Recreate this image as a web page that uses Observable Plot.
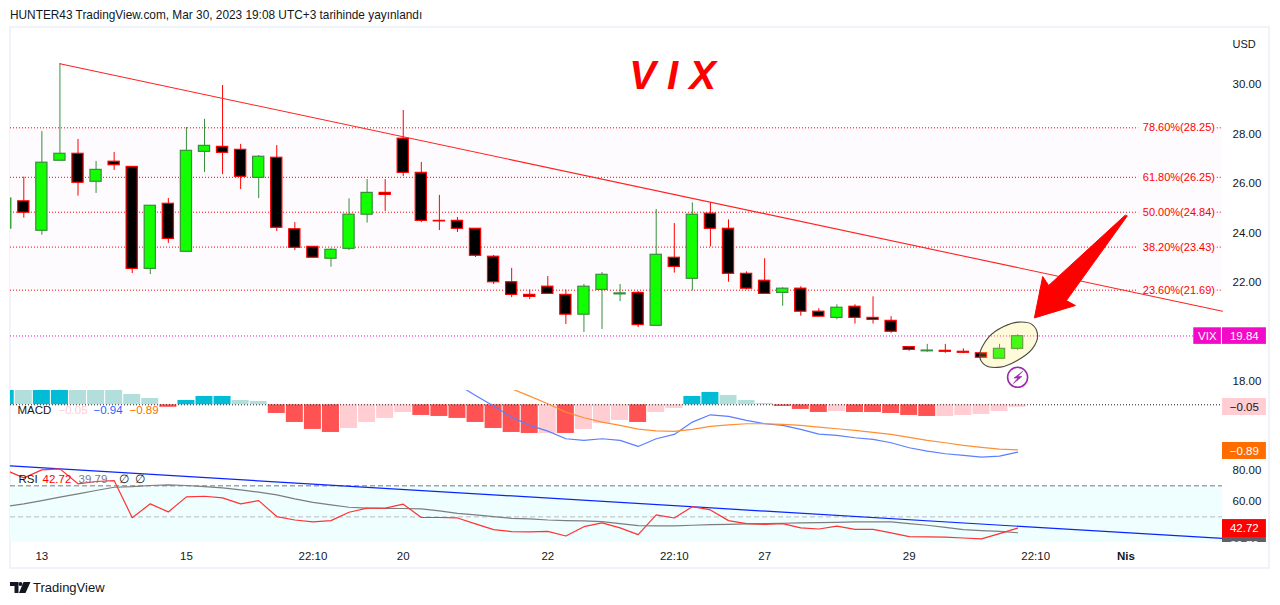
<!DOCTYPE html>
<html lang="tr">
<head>
<meta charset="utf-8">
<script src="https://cdn.jsdelivr.net/npm/d3@7"></script>
<script src="https://cdn.jsdelivr.net/npm/@observablehq/plot@0.6"></script>
<style>
html,body{margin:0;padding:0;background:#fff;overflow:hidden;width:1280px;height:605px}
#stage{position:relative;width:1280px;height:605px;font-family:"Liberation Sans",Arial,sans-serif}
#stage svg.layer,#stage>figure{position:absolute;left:0;top:0;margin:0}
#border{position:absolute;left:9px;top:26px;width:1261px;height:543px;box-sizing:border-box;border:2px solid #f0f3fa}
#header{position:absolute;left:10px;top:8px;font-size:11.85px;color:#131722;white-space:nowrap}
#footer{position:absolute;left:33px;top:580px;font-size:13px;color:#131722;white-space:nowrap}
#logo{position:absolute;left:10px;top:582px}
</style>
</head>
<body>
<div id="stage">
  <div id="border"></div>
  <div id="header">HUNTER43 TradingView.com, Mar 30, 2023 19:08 UTC+3 tarihinde yayınlandı</div>
  <svg id="logo" width="21" height="12" viewBox="0 0 21 12"><path fill="#131722" d="M0 0H8.5V11H4.5V4H0ZM9 11L13.5 0H20.5L15.5 11Z"/><circle cx="10.5" cy="2" r="2" fill="#131722"/></svg>
  <div id="footer">TradingView</div>
</div>
<script>
// ---- candles (first entry is the bar cut by the pane's left edge)
const open = [24.18,25.28,24.09,26.92,27.20,26.07,26.88,26.67,22.55,25.18,23.24,27.28,27.48,27.36,26.23,27.04,24.15,23.44,22.96,23.36,24.74,25.62,27.81,26.43,24.49,24.49,24.17,23.04,22.01,21.50,21.83,21.50,20.70,21.70,21.52,21.58,20.25,23.00,22.15,24.78,24.17,22.35,22.07,21.58,21.75,20.82,20.57,21.02,20.57,20.45,19.39,19.22,19.24,19.20,19.14,18.92,19.32];
const high = [25.39,26.26,28.10,30.84,27.78,26.89,27.25,26.67,25.10,25.39,28.26,28.59,29.96,27.58,27.13,27.53,24.42,23.44,23.36,25.38,26.16,26.16,28.95,26.85,25.52,24.63,24.17,23.09,22.57,21.70,22.24,21.70,21.92,22.40,21.92,21.64,24.95,24.38,25.22,25.22,24.53,22.43,22.96,21.79,21.83,20.94,21.10,21.10,21.42,20.62,19.39,19.50,19.50,19.32,19.14,19.50,19.89];
const low = [24.18,24.60,23.91,26.92,25.49,25.60,26.53,22.36,22.32,23.58,23.24,26.44,26.36,25.76,25.39,24.06,23.29,23.00,22.62,23.29,24.40,24.87,26.28,24.42,24.10,24.02,23.01,21.92,21.39,21.31,21.54,20.30,19.98,20.10,21.23,20.18,20.25,22.38,21.66,23.44,22.01,21.70,21.54,21.04,20.64,20.62,20.49,20.32,20.32,19.95,19.22,19.18,19.14,19.12,18.96,18.92,19.26];
const close = [25.39,24.82,26.84,27.20,26.03,26.55,26.74,22.55,25.10,23.76,27.32,27.52,27.24,26.27,27.08,24.21,23.40,23.00,23.32,24.74,25.62,25.54,26.43,24.49,24.47,24.17,23.08,22.01,21.50,21.42,21.54,20.70,21.83,22.31,21.56,20.28,23.12,22.63,24.74,24.17,22.35,21.75,21.54,21.75,20.82,20.62,20.98,20.57,20.49,20.01,19.28,19.25,19.20,19.16,18.96,19.32,19.83];
const barIndex = close.map((_, k) => k - 1);
const candles = barIndex.map((i, k) => ({i, o: open[k], h: high[k], l: low[k], c: close[k], up: close[k] >= open[k]}));

// ---- retracement levels and price marks
const fibLevels = [28.25, 26.25, 24.84, 23.43, 21.69];
const fibLabels = ["78.60%(28.25)", "61.80%(26.25)", "50.00%(24.84)", "38.20%(23.43)", "23.60%(21.69)"];
const priceTicks = [18, 20, 22, 24, 26, 28, 30];
const lastPrice = 19.84;
const trendI = [2, 66.34], trendP = [30.84, 20.84];
const ellipseI = [52.90,53.40,54.23,55.06,55.81,56.11,55.81,54.98,54.05,53.22];
const ellipseP = [19.05,19.79,20.22,20.40,20.30,19.86,19.32,18.85,18.58,18.65];
const arrowI = [61.06,57.70,58.20,55.93,56.39,56.72,60.94];
const arrowP = [24.68,21.27,21.07,20.57,22.24,21.88,24.71];
const boltI = [55.27,54.80,55.02,54.77,55.24,55.02];
const boltP = [18.40,18.14,18.14,17.92,18.20,18.20];

// ---- time axis
const timeTicks = [1, 9, 16, 21, 29, 36, 41, 49, 56];
const timeLabels = ["13", "15", "22:10", "20", "22", "22:10", "27", "29", "22:10"];
const monthTick = 61, monthLabel = "Nis";

// ---- MACD
const histIndex = d3.range(-1, 56);
const hist = [0.30,0.32,0.35,0.38,0.33,0.30,0.285,0.205,0.125,-0.05,0.086,0.165,0.165,0.086,0.066,-0.172,-0.35,-0.488,-0.548,-0.469,-0.35,-0.27,-0.152,-0.211,-0.231,-0.27,-0.35,-0.469,-0.548,-0.568,-0.568,-0.568,-0.488,-0.37,-0.31,-0.35,-0.152,-0.073,0.165,0.244,0.185,0.086,0.026,-0.033,-0.092,-0.152,-0.132,-0.152,-0.152,-0.172,-0.211,-0.231,-0.231,-0.211,-0.191,-0.132,-0.05];
const histTone = ["c","l","c","c","l","l","l","l","l","r","c","c","c","l","l","r","r","r","r","p","p","p","p","r","r","r","r","r","r","r","p","r","p","p","p","r","p","p","c","c","l","l","l","r","r","r","p","r","r","r","r","r","p","p","p","p","p"];
const toneColor = {c: "#00bcd4", l: "#b2dfdb", r: "#ff5252", p: "#ffcdd2"};
const macdIndex = d3.range(24, 56);
const macdLine = [0.403,0.185,-0.026,-0.244,-0.409,-0.521,-0.673,-0.706,-0.673,-0.706,-0.825,-0.673,-0.587,-0.343,-0.198,-0.231,-0.31,-0.376,-0.409,-0.488,-0.581,-0.607,-0.653,-0.686,-0.752,-0.851,-0.917,-0.970,-1.003,-1.036,-1.017,-0.937];
const signalIndex = d3.range(26, 56);
const signalLine = [0.482,0.317,0.172,0.02,-0.145,-0.257,-0.343,-0.409,-0.482,-0.515,-0.528,-0.488,-0.429,-0.396,-0.376,-0.376,-0.389,-0.409,-0.442,-0.475,-0.508,-0.548,-0.587,-0.647,-0.706,-0.752,-0.805,-0.845,-0.878,-0.891];

// ---- RSI
const rsiIndex = d3.range(-1, 56);
const rsi = [80.1,75.1,80.3,80.9,71.3,72.8,73.4,49.5,58.4,53.2,62.9,63.3,62.2,58.4,60.5,50.2,48.0,46.8,47.6,53.0,55.6,55.6,58.2,49.6,49.6,49.3,45.5,41.8,40.5,40.3,40.7,37.7,43.7,46.1,42.9,38.6,51.3,49.3,56.6,54.5,47.6,45.7,45.2,45.7,42.9,42.2,44.0,42.0,42.0,39.7,37.3,37.1,36.9,36.4,35.8,39.2,42.72];
const rsiMa = [56.6,58.4,60.5,62.7,64.8,67.0,69.1,69.5,70.2,70.6,70.2,69.5,68.7,67.4,65.9,64.2,61.6,59.4,57.7,56.2,55.6,55.4,55.4,55.1,53.9,52.3,51.3,50.2,49.1,48.7,48.0,47.6,47.4,47.0,45.7,44.4,44.2,44.2,44.6,45.0,45.2,45.5,45.7,45.9,46.1,46.3,46.5,46.8,46.8,46.8,45.7,44.6,43.3,41.8,41.2,40.7,39.79];
const rsiTrendI = [-0.74, 66.34], rsiTrendV = [82.8, 36.1];

const font = '"Liberation Sans",Arial,sans-serif';
const xScale = {type: "linear", domain: [-0.736, 66.34], axis: null};
const W = 1280, ML = 10, MR = 58;
const xyPts = (xs, ys) => xs.map((x, k) => ({x, y: ys[k]}));
const base = {width: W, marginLeft: ML, marginRight: MR, x: xScale,
  style: {background: "transparent", fontFamily: font, position: "absolute", left: 0, top: 0, overflow: "hidden"}};

// ---- main pane
const main = Plot.plot({...base, height: 605, marginTop: 27, marginBottom: 63.3,
  y: {domain: [11.507, 32.303], axis: null},
  marks: [
    Plot.rect([0], {x1: -0.736, x2: 66.34, y1: 21.69, y2: 28.25, fill: "#fdfbfd"}),
    Plot.ruleY(fibLevels, {x1: -0.736, x2: 61.7, stroke: "#f00", strokeDasharray: "1 2"}),
    Plot.ruleY(fibLevels, {x1: 66.05, x2: 66.34, stroke: "#f00", strokeDasharray: "1 2"}),
    Plot.ruleY([lastPrice], {x1: -0.736, x2: 64.75, stroke: "#f20ac8", strokeDasharray: "1 2"}),
    Plot.ruleX(candles, {x: "i", y1: "l", y2: "h", stroke: d => d.up ? "#388e3c" : "#f00", strokeWidth: 1, clip: true}),
    Plot.rect(candles, {x1: d => d.i - 0.31, x2: d => d.i + 0.31, y1: "o", y2: "c",
      fill: d => d.up ? "#11ff00" : "#000", stroke: d => d.up ? "#388e3c" : "#f00", strokeWidth: 1.2, clip: true}),
    Plot.line(xyPts(trendI, trendP), {x: "x", y: "y", stroke: "#f22", strokeWidth: 1.1}),
    Plot.text(fibLevels, {x: 61.93, y: d => d, text: (d, k) => fibLabels[k], fill: "#f00", textAnchor: "start", fontSize: 11}),
    Plot.line(xyPts(ellipseI, ellipseP), {x: "x", y: "y", curve: "catmull-rom-closed", fill: "#ffee58", fillOpacity: 0.22, stroke: "#4a4a40", strokeWidth: 1.1}),
    Plot.line(xyPts(arrowI, arrowP), {x: "x", y: "y", fill: "#f00", stroke: "#f00", strokeWidth: 1, curve: "linear-closed"}),
    Plot.dot([0], {x: 55, y: 18.17, r: 10, stroke: "#9c27b0", strokeWidth: 1.6, fill: "none"}),
    Plot.line(xyPts(boltI, boltP), {x: "x", y: "y", fill: "#9c27b0", stroke: "#9c27b0", strokeWidth: 0.6, curve: "linear-closed"}),
    Plot.text(["V I X"], {x: 35.9, y: 30.32, fill: "#f00", fontSize: 40, fontWeight: "bold", fontStyle: "italic", fontFamily: font}),
    Plot.axisY({anchor: "right", ticks: priceTicks, tickSize: 0, tickPadding: 10, tickFormat: d3.format(".2f"), fontSize: 11.5, fill: "#131722", label: null}),
    Plot.text(["USD"], {frameAnchor: "top-right", dx: 10, dy: 13, text: d => d, textAnchor: "start", fontSize: 11, fill: "#131722"}),
    Plot.rect([0], {x1: 64.75, x2: 66.28, y1: 19.50, y2: 20.17, fill: "#f20ac8"}),
    Plot.rect([0], {x1: 66.34, x2: 68.77, y1: 19.50, y2: 20.17, fill: "#f20ac8"}),
    Plot.text(["VIX"], {x: 65.5, y: lastPrice, text: d => d, fill: "#fff", fontSize: 11.5}),
    Plot.text([lastPrice], {x: 67.55, y: lastPrice, text: d => d.toFixed(2), fill: "#fff", fontSize: 11.5}),
    Plot.axisX({anchor: "bottom", ticks: timeTicks, tickSize: 0, tickPadding: 10, tickFormat: d => timeLabels[timeTicks.indexOf(d)], fontSize: 11.5, fill: "#131722", label: null}),
    Plot.axisX({anchor: "bottom", ticks: [monthTick], tickSize: 0, tickPadding: 10, tickFormat: () => monthLabel, fontSize: 11.5, fontWeight: "bold", fill: "#131722", label: null})
  ]});

// ---- MACD pane
const macdData = histIndex.map((i, k) => ({i, v: hist[k], t: histTone[k]}));
const macd = Plot.plot({...base, height: 605, marginTop: 390, marginBottom: 143,
  y: {domain: [-1.143, 0.283], axis: null},
  marks: [
    Plot.rect(macdData, {x1: d => d.i - 0.47, x2: d => d.i + 0.47, y1: 0, y2: "v", fill: d => toneColor[d.t], clip: true}),
    Plot.ruleY([0], {stroke: "#222", strokeDasharray: "1 2"}),
    Plot.line(xyPts(macdIndex, macdLine), {x: "x", y: "y", stroke: "#5b7fff", strokeWidth: 1.2, clip: true}),
    Plot.line(xyPts(signalIndex, signalLine), {x: "x", y: "y", stroke: "#ff8f33", strokeWidth: 1.2, clip: true}),
    Plot.text(["MACD"], {frameAnchor: "top-left", dx: 7, dy: 15, text: d => d, textAnchor: "start", fontSize: 11.5, fill: "#131722"}),
    Plot.text(["−0.05"], {frameAnchor: "top-left", dx: 48, dy: 15, text: d => d, textAnchor: "start", fontSize: 11.5, fill: "#ffcdd2"}),
    Plot.text(["−0.94"], {frameAnchor: "top-left", dx: 83, dy: 15, text: d => d, textAnchor: "start", fontSize: 11.5, fill: "#2962ff"}),
    Plot.text(["−0.89"], {frameAnchor: "top-left", dx: 119, dy: 15, text: d => d, textAnchor: "start", fontSize: 11.5, fill: "#ff6d00"}),
    Plot.rect([0], {x1: 66.34, x2: 68.77, y1: 0.125, y2: -0.212, fill: "#ffcdd2"}),
    Plot.text(["−0.05"], {x: 67.55, y: -0.05, text: d => d, fontSize: 11.5, fill: "#131722"}),
    Plot.rect([0], {x1: 66.34, x2: 68.77, y1: -0.747, y2: -1.083, fill: "#ff6d00"}),
    Plot.text(["−0.89"], {x: 67.55, y: -0.915, text: d => d, fontSize: 11.5, fill: "#fff"})
  ]});

// ---- RSI pane
const rsiPlot = Plot.plot({...base, height: 542, marginTop: 462, marginBottom: 0,
  y: {domain: [33.5, 85.03], axis: null},
  marks: [
    Plot.rect([0], {x1: -0.736, x2: 66.34, y1: 70, y2: 30, fill: "#effefe", clip: true}),
    Plot.ruleY([70], {stroke: "#787b86", strokeDasharray: "5 3"}),
    Plot.ruleY([50], {stroke: "#b8bac0", strokeDasharray: "5 3"}),
    Plot.line(xyPts(rsiTrendI, rsiTrendV), {x: "x", y: "y", stroke: "#0a24ff", strokeWidth: 1.2}),
    Plot.line(xyPts(rsiIndex, rsiMa), {x: "x", y: "y", stroke: "#7d7d7d", strokeWidth: 1.2, clip: true}),
    Plot.line(xyPts(rsiIndex, rsi), {x: "x", y: "y", stroke: "#f33", strokeWidth: 1.2, clip: true}),
    Plot.text(["RSI"], {frameAnchor: "top-left", dx: 8, dy: 12, text: d => d, textAnchor: "start", fontSize: 11.5, fill: "#131722"}),
    Plot.text(["42.72"], {frameAnchor: "top-left", dx: 32, dy: 12, text: d => d, textAnchor: "start", fontSize: 11.5, fill: "#f00"}),
    Plot.text(["39.79"], {frameAnchor: "top-left", dx: 68, dy: 12, text: d => d, textAnchor: "start", fontSize: 11.5, fill: "#787b86"}),
    Plot.text(["∅"], {frameAnchor: "top-left", dx: 108, dy: 12, text: d => d, textAnchor: "start", fontSize: 11.5, fill: "#131722"}),
    Plot.text(["∅"], {frameAnchor: "top-left", dx: 124, dy: 12, text: d => d, textAnchor: "start", fontSize: 11.5, fill: "#131722"}),
    Plot.axisY({anchor: "right", ticks: [60, 80], tickSize: 0, tickPadding: 10, tickFormat: d3.format(".2f"), fontSize: 11.5, fill: "#131722", label: null}),
    Plot.rect([0], {x1: 66.34, x2: 68.77, y1: 37.29, y2: 30, fill: "#5d606b"}),
    Plot.text(["39.79"], {x: 67.55, y: 39.79, dy: 12.5, text: d => d, fontSize: 11.5, fill: "#fff"}),
    Plot.rect([0], {x1: 66.34, x2: 68.77, y1: 48.26, y2: 36.65, fill: "#f00"}),
    Plot.text(["42.72"], {x: 67.55, y: 42.72, text: d => d, fontSize: 11.5, fill: "#fff"})
  ]});

const stage = document.getElementById("stage");
stage.append(main, macd, rsiPlot);
</script>
</body>
</html>
